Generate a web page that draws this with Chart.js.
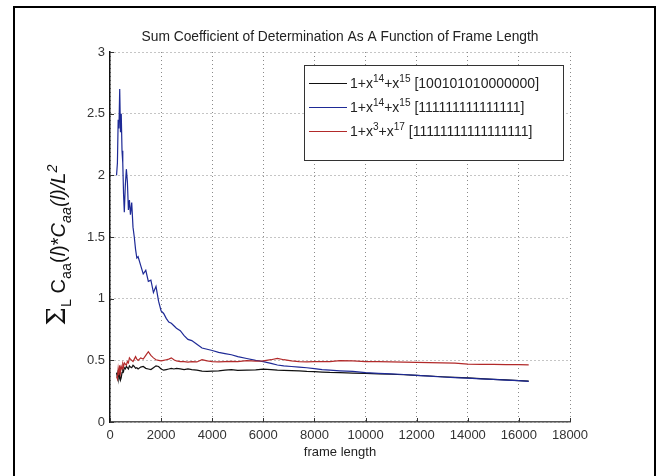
<!DOCTYPE html>
<html>
<head>
<meta charset="utf-8">
<script src="https://cdn.jsdelivr.net/npm/chart.js@4.4.1/dist/chart.umd.min.js"></script>
<style>
  html, body { margin: 0; padding: 0; background: #fff; }
  canvas { display: block; }
</style>
</head>
<body>
<canvas id="lineChart" width="667" height="476"></canvas>
<script>
// frame lengths (x) and the three sum-of-determination curves
var frames = [256, 290, 320, 350, 380, 410, 440, 470, 500, 530,
    560, 600, 640, 680, 720, 760, 800, 850, 900, 950,
    1000, 1050, 1100, 1200, 1300, 1400, 1500, 1600, 1700, 1800,
    1900, 2000, 2100, 2200, 2300, 2400, 2500, 2600, 2750, 2900,
    3050, 3200, 3400, 3600, 3800, 4000, 4250, 4500, 4750, 5000,
    5350, 5700, 6000, 6300, 6550, 6800, 7100, 7400, 7700, 8000,
    8300, 8600, 9000, 9500, 10000, 10500, 11000, 11500, 12000, 12500,
    13000, 13500, 14000, 14500, 15000, 15500, 16000, 16384];

var blackValues = [0.40, 0.36, 0.42, 0.35, 0.38, 0.34, 0.36, 0.40, 0.42, 0.41,
    0.44, 0.43, 0.45, 0.44, 0.43, 0.455, 0.445, 0.44, 0.46, 0.45,
    0.435, 0.44, 0.43, 0.445, 0.45, 0.435, 0.43, 0.425, 0.44, 0.455,
    0.45, 0.43, 0.42, 0.425, 0.43, 0.435, 0.43, 0.435, 0.43, 0.425,
    0.43, 0.425, 0.42, 0.412, 0.41, 0.413, 0.415, 0.42, 0.425, 0.418,
    0.42, 0.422, 0.428, 0.425, 0.42, 0.418, 0.416, 0.414, 0.41, 0.408,
    0.405, 0.402, 0.40, 0.397, 0.394, 0.39, 0.387, 0.383, 0.378, 0.373,
    0.367, 0.362, 0.357, 0.351, 0.346, 0.341, 0.336, 0.332];

var blueValues = [2.00, 2.10, 2.45, 2.38, 2.70, 2.35, 2.50, 2.20, 2.10, 1.85,
    1.70, 1.92, 2.05, 1.95, 1.72, 1.80, 1.68, 1.78, 1.58, 1.50,
    1.40, 1.33, 1.34, 1.27, 1.20, 1.23, 1.14, 1.15, 1.05, 1.10,
    0.98, 0.90, 0.88, 0.84, 0.81, 0.80, 0.78, 0.76, 0.74, 0.70,
    0.67, 0.66, 0.63, 0.60, 0.59, 0.58, 0.565, 0.555, 0.545, 0.53,
    0.515, 0.50, 0.49, 0.475, 0.462, 0.455, 0.45, 0.445, 0.44, 0.432,
    0.425, 0.42, 0.415, 0.41, 0.40, 0.395, 0.39, 0.385, 0.378, 0.372,
    0.365, 0.36, 0.355, 0.35, 0.345, 0.34, 0.335, 0.33];

var redValues = [0.37, 0.35, 0.43, 0.38, 0.46, 0.40, 0.45, 0.43, 0.47, 0.45,
    0.48, 0.47, 0.46, 0.49, 0.48, 0.52, 0.51, 0.50, 0.49, 0.51,
    0.53, 0.51, 0.50, 0.52, 0.51, 0.54, 0.57, 0.54, 0.52, 0.505,
    0.50, 0.495, 0.50, 0.505, 0.51, 0.52, 0.505, 0.495, 0.49, 0.49,
    0.485, 0.49, 0.487, 0.505, 0.495, 0.49, 0.488, 0.49, 0.492, 0.49,
    0.497, 0.493, 0.495, 0.505, 0.515, 0.505, 0.495, 0.49, 0.488, 0.49,
    0.49, 0.49, 0.497, 0.495, 0.49, 0.49, 0.488, 0.485, 0.484, 0.482,
    0.48, 0.478, 0.47, 0.468, 0.467, 0.466, 0.465, 0.463];

var seriesLabels = ['1+x^{14}+x^{15} [100101010000000]',
    '1+x^{14}+x^{15} [111111111111111]',
    '1+x^{3}+x^{17} [11111111111111111]'];
var seriesColors = ['#111111', '#1e2a96', '#b22a2a'];

var chartTitle = 'Sum Coefficient of Determination As A Function of Frame Length';

var FONT = '"Liberation Sans", Arial, sans-serif';

// draws text made of parts (sub / superscripts, italics), returns end x
function drawRich(ctx, parts, x, y, size, measureOnly) {
    ctx.textAlign = 'left';
    ctx.textBaseline = 'alphabetic';
    parts.forEach(function (p) {
        var s = (p.sub || p.sup) ? size * 0.72 : (p.size || size);
        ctx.font = (p.it ? 'italic ' : '') + s + 'px ' + (p.family || FONT);
        var dy = p.sup ? -size * 0.42 : (p.sub ? size * 0.28 : 0);
        if (!measureOnly) ctx.fillText(p.t, x, y + dy);
        x += ctx.measureText(p.t).width;
    });
    return x;
}

// '1+x^{14}' -> parts
function parseLabel(str) {
    var parts = [];
    var re = /\^\{([^}]*)\}/g, last = 0, m;
    while ((m = re.exec(str)) !== null) {
        if (m.index > last) parts.push({t: str.slice(last, m.index)});
        parts.push({t: m[1], sup: true});
        last = re.lastIndex;
    }
    if (last < str.length) parts.push({t: str.slice(last)});
    return parts;
}

var yTitleParts = [
    {t: '\u03A3', size: 26, family: '"DejaVu Serif", serif'},
    {t: 'L', sub: true},
    {t: ' C'}, {t: 'aa', sub: true},
    {t: '('}, {t: 'l', it: true}, {t: ')'},
    {t: '*'},
    {t: 'C', it: true}, {t: 'aa', sub: true, it: true},
    {t: '(', it: true}, {t: 'l', it: true}, {t: ')/L', it: true},
    {t: '2', sup: true, it: true}
];

var extras = {
    id: 'extras',
    afterDraw: function (chart) {
        var ctx = chart.ctx, a = chart.chartArea;
        var xs = chart.scales.x, ys = chart.scales.y;
        ctx.save();
        // outer frame
        ctx.strokeStyle = '#000';
        ctx.lineWidth = 2;
        ctx.strokeRect(14, 7, 641, 480);

        // small inward ticks, matlab style
        ctx.lineWidth = 1;
        ctx.strokeStyle = '#333';
        ctx.beginPath();
        ys.ticks.forEach(function (t) {
            var py = Math.round(ys.getPixelForValue(t.value)) + 0.5;
            ctx.moveTo(a.left, py); ctx.lineTo(a.left + 4, py);
        });
        xs.ticks.forEach(function (t) {
            var px = Math.round(xs.getPixelForValue(t.value)) + 0.5;
            ctx.moveTo(px, a.bottom); ctx.lineTo(px, a.bottom - 4);
        });
        ctx.stroke();

        // title centred on the axes
        ctx.fillStyle = '#222';
        ctx.font = '13.8px ' + FONT;
        ctx.textAlign = 'center';
        ctx.textBaseline = 'middle';
        ctx.fillText(chartTitle, (a.left + a.right) / 2, 37);

        // y axis title, rotated
        ctx.fillStyle = '#111';
        var w = drawRich(ctx, yTitleParts, 0, 0, 20, true);
        ctx.translate(58, (a.top + a.bottom) / 2 + 8);
        ctx.rotate(-Math.PI / 2);
        drawRich(ctx, yTitleParts, -w / 2, 7, 20);
        ctx.restore();

        // legend box inside the plot
        ctx.save();
        var lw = 259, lh = 95;
        var x0 = a.right - 7 - lw, y0 = a.top + 13;
        ctx.fillStyle = '#fff';
        ctx.fillRect(x0, y0, lw, lh);
        ctx.strokeStyle = '#333';
        ctx.lineWidth = 1;
        ctx.strokeRect(x0 + 0.5, y0 + 0.5, lw, lh);
        chart.data.datasets.forEach(function (ds, i) {
            var yy = y0 + 18 + i * 24;
            ctx.strokeStyle = ds.borderColor;
            ctx.beginPath();
            ctx.moveTo(x0 + 5, yy + 0.5);
            ctx.lineTo(x0 + 43, yy + 0.5);
            ctx.stroke();
            ctx.fillStyle = '#222';
            drawRich(ctx, parseLabel(ds.label), x0 + 46, yy + 5, 14);
        });
        ctx.restore();
    }
};

var ctxL = document.getElementById('lineChart').getContext('2d');
var myLineChart = new Chart(ctxL, {
    type: 'line',
    data: {
        datasets: [0, 1, 2].map(function (i) {
            var vals = [blackValues, blueValues, redValues][i];
            return {
                label: seriesLabels[i],
                data: frames.map(function (f, k) { return {x: f, y: vals[k]}; }),
                borderColor: seriesColors[i],
                borderWidth: 1.2,
                pointRadius: 0,
                tension: 0,
                fill: false,
                order: 3 - i
            };
        })
    },
    options: {
        responsive: false,
        animation: false,
        layout: { padding: { left: 0, right: 97, top: 52, bottom: 0 } },
        plugins: {
            legend: { display: false },
            tooltip: { enabled: false },
            title: { display: false }
        },
        scales: {
            x: {
                type: 'linear',
                min: 0, max: 18000,
                afterFit: function (s) { s.height = 54; },
                ticks: {
                    stepSize: 2000,
                    color: '#333',
                    padding: 6,
                    maxRotation: 0,
                    font: { family: FONT, size: 13 },
                    callback: function (v) { return String(v); }
                },
                grid: { color: '#8a8a8a', drawTicks: false, lineWidth: 1 },
                border: { color: '#555', width: 1.5, dash: [1, 3] },
                title: {
                    display: true, text: 'frame length', color: '#222',
                    font: { family: FONT, size: 13 },
                    padding: { top: 0, bottom: 16 }
                }
            },
            y: {
                min: 0, max: 3,
                afterFit: function (s) { s.width = 110; },
                ticks: {
                    stepSize: 0.5,
                    color: '#333',
                    padding: 5,
                    font: { family: FONT, size: 13 },
                    callback: function (v) { return String(v); }
                },
                grid: { color: '#8a8a8a', drawTicks: false, lineWidth: 1 },
                border: { color: '#111', width: 1.5, dash: [1, 3] }
            }
        }
    },
    plugins: [extras]
});
</script>
</body>
</html>
